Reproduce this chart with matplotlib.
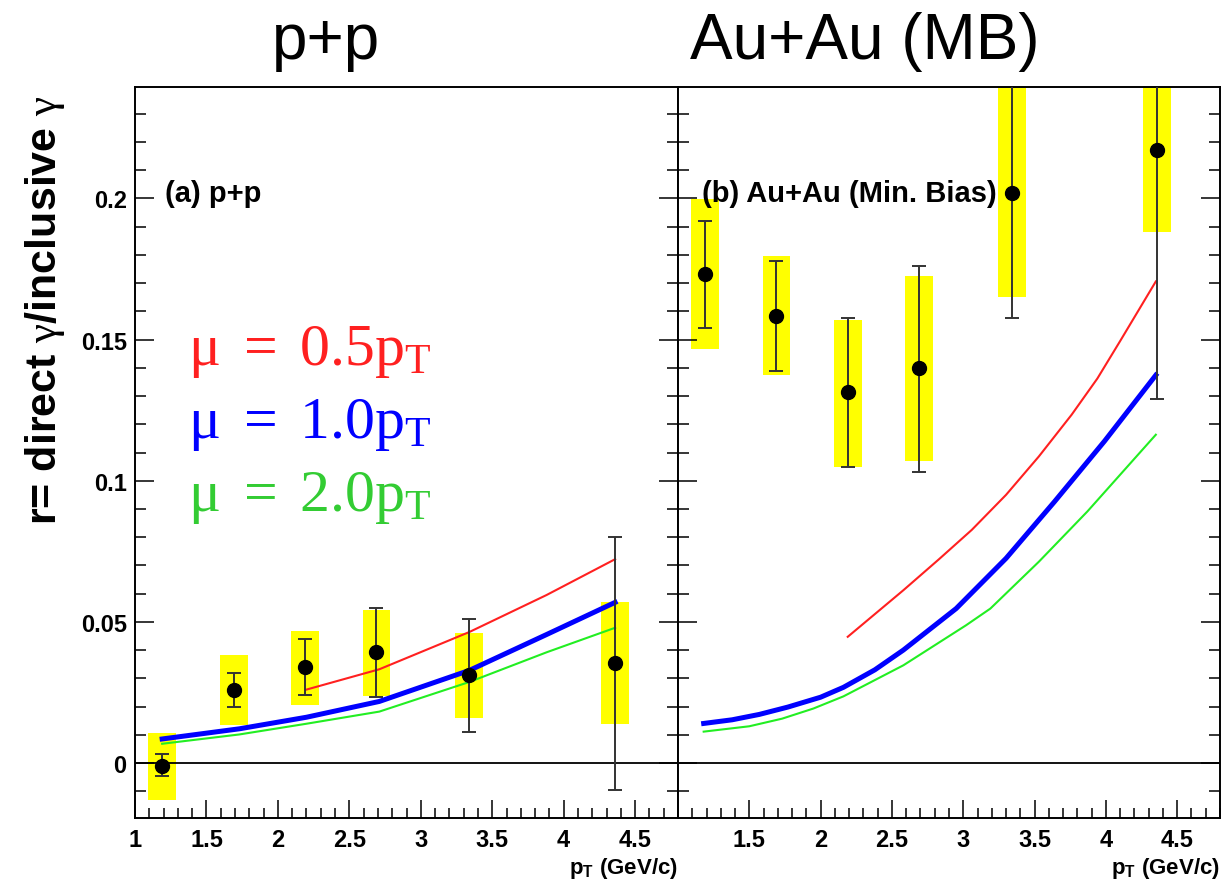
import numpy as np
import matplotlib
matplotlib.use("Agg")
import matplotlib.pyplot as plt
from matplotlib.ticker import MultipleLocator

plt.rcParams["font.family"] = ["Liberation Sans", "DejaVu Sans"]
plt.rcParams["mathtext.fontset"] = "custom"
plt.rcParams["mathtext.rm"] = "Liberation Serif"
plt.rcParams["mathtext.it"] = "Liberation Serif:italic"
plt.rcParams["mathtext.bf"] = "Liberation Sans:bold"

# data points (shared pT bins)
pt = [1.19, 1.69, 2.19, 2.69, 3.34, 4.36]

pp_r = [-0.001, 0.026, 0.0339, 0.0392, 0.031, 0.0353]
pp_stat_hi = [0.003, 0.0319, 0.0438, 0.0548, 0.051, 0.080]
pp_stat_lo = [-0.0046, 0.020, 0.0242, 0.0233, 0.0111, -0.0095]
pp_sys_hi = [0.0107, 0.0384, 0.0468, 0.0541, 0.046, 0.0571]
pp_sys_lo = [-0.013, 0.0133, 0.0206, 0.0239, 0.0159, 0.0138]

au_r = [0.1732, 0.1585, 0.1315, 0.1398, 0.202, 0.2172]
au_stat_hi = [0.1919, 0.1779, 0.1575, 0.176, 0.27, 0.27]
au_stat_lo = [0.154, 0.1387, 0.105, 0.103, 0.1575, 0.129]
au_sys_hi = [0.1997, 0.1797, 0.157, 0.1724, 0.239, 0.27]
au_sys_lo = [0.1468, 0.1375, 0.105, 0.107, 0.165, 0.188]

# NLO pQCD curves, three scale choices
pp_red_x = [2.2, 2.71, 3.34, 3.88, 4.36]
pp_red_y = [0.026, 0.0332, 0.0464, 0.0595, 0.0722]
pp_blue_x = [1.19, 1.73, 2.2, 2.71, 3.34, 3.88, 4.36]
pp_blue_y = [0.0085, 0.0121, 0.0162, 0.0218, 0.0328, 0.0455, 0.0569]
pp_green_x = [1.19, 1.73, 2.2, 2.71, 3.34, 3.88, 4.36]
pp_green_y = [0.0068, 0.0101, 0.0139, 0.0182, 0.0287, 0.0392, 0.0479]

au_red_x = [2.19, 2.58, 2.83, 3.06, 3.3, 3.53, 3.76, 3.94, 4.1, 4.35]
au_red_y = [0.0447, 0.0612, 0.0722, 0.0826, 0.095, 0.1086, 0.1234, 0.1362, 0.1495, 0.1706]
au_blue_x = [1.18, 1.38, 1.57, 1.77, 2.0, 2.16, 2.38, 2.58, 2.95, 3.3, 3.64, 3.99, 4.35]
au_blue_y = [0.014, 0.0153, 0.0172, 0.0198, 0.0233, 0.0268, 0.0330, 0.0400, 0.0547, 0.0725,
             0.0926, 0.114, 0.1374]
au_green_x = [1.18, 1.5, 1.73, 1.95, 2.16, 2.58, 3.02, 3.19, 3.53, 3.87, 4.35]
au_green_y = [0.0111, 0.013, 0.0157, 0.0193, 0.0236, 0.0346, 0.0488, 0.0547, 0.0713, 0.0891, 0.1163]

xticks = [1, 1.5, 2, 2.5, 3, 3.5, 4, 4.5]
yticks = [0, 0.05, 0.1, 0.15, 0.2]

W, H = 1223, 887
fig = plt.figure(figsize=(W / 100, H / 100), dpi=100)
ax1 = fig.add_axes([135 / W, 1 - 819 / H, (678 - 135) / W, (819 - 88) / H])
ax2 = fig.add_axes([678 / W, 1 - 819 / H, (1220 - 678) / W, (819 - 88) / H])

RED, BLUE, GREEN = "#ff2020", "#0000ff", "#22ee22"
TICKFONT = dict(fontsize=17, fontweight="bold")


def draw(ax, r, shi, slo, syh, syl, curves):
    r = np.array(r)
    ax.bar(pt, np.array(syh) - np.array(syl), bottom=syl, width=0.195,
           color="#ffff00", zorder=1)
    ax.axhline(0, color="black", lw=1.3, zorder=2)
    for (cx, cy), col, lw in zip(curves, [RED, BLUE, GREEN], [1.5, 3.6, 1.5]):
        ax.plot(cx, cy, color=col, lw=lw, zorder=3, solid_joinstyle="round")
    ax.errorbar(pt, r, yerr=[r - np.array(slo), np.array(shi) - r], fmt="o",
                color="black", ms=10, ecolor="#333333", elinewidth=1.4,
                capsize=5, capthick=1.4, zorder=4)
    ax.set_xlim(1, 4.8)
    ax.set_ylim(-0.0195, 0.2395)
    ax.set_xticks(xticks)
    ax.set_yticks(yticks)
    ax.xaxis.set_minor_locator(MultipleLocator(0.1))
    ax.yaxis.set_minor_locator(MultipleLocator(0.01))
    ax.tick_params(which="both", direction="in", right=True, top=False)
    ax.tick_params(axis="y", which="major", length=14, width=1.1, pad=6)
    ax.tick_params(axis="y", which="minor", length=8, width=1.1)
    ax.tick_params(axis="x", which="major", length=13, width=1.1, pad=7)
    ax.tick_params(axis="x", which="minor", length=7, width=1.1)
    for s in ax.spines.values():
        s.set_linewidth(1.4)
    ax.text(1.0, -0.068, r"$\mathbf{p_{T}}$ (GeV/c)", transform=ax.transAxes,
            ha="right", va="center", fontsize=16, fontweight="bold")


draw(ax1, pp_r, pp_stat_hi, pp_stat_lo, pp_sys_hi, pp_sys_lo,
     [(pp_red_x, pp_red_y), (pp_blue_x, pp_blue_y), (pp_green_x, pp_green_y)])
draw(ax2, au_r, au_stat_hi, au_stat_lo, au_sys_hi, au_sys_lo,
     [(au_red_x, au_red_y), (au_blue_x, au_blue_y), (au_green_x, au_green_y)])

ax1.set_yticklabels(["0", "0.05", "0.1", "0.15", "0.2"], **TICKFONT)
ax1.set_xticklabels([f"{t:g}" for t in xticks], **TICKFONT)
ax2.set_yticklabels([])
ax2.set_xticklabels([""] + [f"{t:g}" for t in xticks[1:]], **TICKFONT)

ax1.text(0.055, 0.855, "(a) p+p", transform=ax1.transAxes, fontsize=21,
         fontweight="bold", va="center")
ax2.text(0.045, 0.855, "(b) Au+Au (Min. Bias)", transform=ax2.transAxes,
         fontsize=21, fontweight="bold", va="center")

legend_lines = [(r"$\mathrm{\mu\ =\ 0.5p_T}$", RED, 352),
                (r"$\mathrm{\mu\ =\ 1.0p_T}$", BLUE, 425),
                (r"$\mathrm{\mu\ =\ 2.0p_T}$", "#33cc33", 498)]
for txt, col, ypx in legend_lines:
    fig.text(188 / W, 1 - ypx / H, txt, color=col, fontsize=43, va="center")

fig.text(45 / W, 1 - 310 / H, r"r= direct $\mathrm{\gamma}$/inclusive $\mathrm{\gamma}$",
         rotation=90, ha="center", va="center", fontsize=31, fontweight="bold")

fig.text(326 / W, 1 - 42 / H, "p+p", ha="center", va="center", fontsize=46)
fig.text(865 / W, 1 - 42 / H, "Au+Au (MB)", ha="center", va="center", fontsize=46)

fig.savefig("out.png", dpi=100)
